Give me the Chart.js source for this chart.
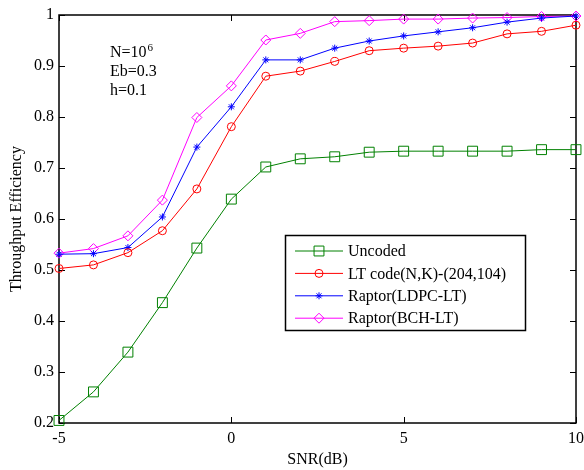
<!DOCTYPE html>
<html>
<head>
<meta charset="utf-8">
<script src="https://cdn.jsdelivr.net/npm/chart.js@4/dist/chart.umd.min.js"></script>
<style>
  html, body { margin: 0; padding: 0; background: #fff; }
</style>
</head>
<body>
<canvas id="chart" width="584" height="470"></canvas>
<script>
const snr = [-5, -4, -3, -2, -1, 0, 1, 2, 3, 4, 5, 6, 7, 8, 9, 10];
const uncoded = [0.205, 0.261, 0.339, 0.436, 0.543, 0.639, 0.702, 0.718, 0.722, 0.731, 0.733, 0.733, 0.733, 0.733, 0.736, 0.736];
const ltCode = [0.503, 0.510, 0.534, 0.577, 0.659, 0.781, 0.880, 0.890, 0.909, 0.930, 0.935, 0.939, 0.945, 0.963, 0.968, 0.980];
const raptorLdpc = [0.531, 0.532, 0.544, 0.604, 0.741, 0.820, 0.912, 0.912, 0.935, 0.949, 0.959, 0.967, 0.975, 0.986, 0.994, 0.998];
const raptorBch = [0.533, 0.542, 0.567, 0.637, 0.799, 0.861, 0.951, 0.964, 0.987, 0.989, 0.992, 0.992, 0.994, 0.995, 0.997, 0.998];
const seriesNames = ['Uncoded', 'LT code(N,K)-(204,104)', 'Raptor(LDPC-LT)', 'Raptor(BCH-LT)'];
const xTicks = [-5, 0, 5, 10];
const yTicks = [0.2, 0.3, 0.4, 0.5, 0.6, 0.7, 0.8, 0.9, 1];
const notes = ['N=10', 'Eb=0.3', 'h=0.1'];

const serif = '"Liberation Serif", "Times New Roman", serif';
const fontSize = 16;

function pts(ys) {
  return snr.map((x, i) => ({ x: x, y: ys[i] }));
}

function series(label, ys, color, style, radius) {
  return {
    label: label,
    data: pts(ys),
    borderColor: color,
    borderWidth: 1,
    pointStyle: style,
    pointRadius: radius,
    pointHoverRadius: radius,
    pointBorderColor: color,
    pointBorderWidth: 1,
    pointBackgroundColor: 'rgba(0,0,0,0)',
    tension: 0,
    clip: false,
    showLine: true
  };
}

// box around the axes with inward tick marks on all four sides
const framePlugin = {
  id: 'frame',
  beforeDatasetsDraw(chart) {
    const { ctx, chartArea: a, scales } = chart;
    const len = 6;
    ctx.save();
    ctx.strokeStyle = '#000';
    ctx.lineWidth = 1;
    ctx.beginPath();
    xTicks.forEach(v => {
      const px = Math.round(scales.x.getPixelForValue(v)) + 0.5;
      ctx.moveTo(px, a.bottom); ctx.lineTo(px, a.bottom - len);
      ctx.moveTo(px, a.top); ctx.lineTo(px, a.top + len);
    });
    yTicks.forEach(v => {
      const py = Math.round(scales.y.getPixelForValue(v)) + 0.5;
      ctx.moveTo(a.left, py); ctx.lineTo(a.left + len, py);
      ctx.moveTo(a.right, py); ctx.lineTo(a.right - len, py);
    });
    ctx.stroke();
    ctx.lineWidth = 1.5;
    ctx.strokeRect(a.left, a.top, a.right - a.left, a.bottom - a.top);
    ctx.restore();
  }
};

// legend box inside the plot area
const legendPlugin = {
  id: 'innerLegend',
  afterDatasetsDraw(chart) {
    const { ctx } = chart;
    const box = { x: 285.5, y: 235.5, w: 240, h: 95 };
    ctx.save();
    ctx.fillStyle = '#fff';
    ctx.fillRect(box.x, box.y, box.w, box.h);
    ctx.strokeStyle = '#000';
    ctx.lineWidth = 1.5;
    ctx.strokeRect(box.x, box.y, box.w, box.h);
    ctx.font = fontSize + 'px ' + serif;
    ctx.textBaseline = 'middle';
    chart.data.datasets.forEach((ds, i) => {
      const y = 251 + i * 22.4;
      ctx.strokeStyle = ds.borderColor;
      ctx.lineWidth = 1;
      ctx.beginPath();
      ctx.moveTo(295, y); ctx.lineTo(343, y);
      ctx.stroke();
      ctx.fillStyle = 'rgba(0,0,0,0)';
      Chart.helpers.drawPoint(ctx, {
        pointStyle: ds.pointStyle, radius: ds.pointRadius, rotation: 0, borderWidth: 1
      }, 319, y);
      ctx.fillStyle = '#000';
      ctx.fillText(ds.label, 348, y + 1);
    });
    ctx.restore();
  }
};

// parameter notes in the upper left
const notesPlugin = {
  id: 'notes',
  afterDraw(chart) {
    const { ctx } = chart;
    ctx.save();
    ctx.fillStyle = '#000';
    ctx.font = fontSize + 'px ' + serif;
    ctx.textBaseline = 'alphabetic';
    notes.forEach((t, i) => ctx.fillText(t, 110, 57 + i * 19));
    const w = ctx.measureText(notes[0]).width;
    ctx.font = '11px ' + serif;
    ctx.fillText('6', 110 + w + 1, 51);
    ctx.restore();
  }
};

new Chart(document.getElementById('chart'), {
  type: 'scatter',
  data: {
    datasets: [
      series(seriesNames[0], uncoded, '#008000', 'rect', 7),
      series(seriesNames[1], ltCode, '#ff0000', 'circle', 4),
      series(seriesNames[2], raptorLdpc, '#0000ff', 'star', 3.5),
      series(seriesNames[3], raptorBch, '#ff00ff', 'rectRot', 5)
    ]
  },
  options: {
    responsive: false,
    animation: false,
    layout: { padding: { top: 15, right: 0, left: 0, bottom: 0 } },
    plugins: { legend: { display: false }, tooltip: { enabled: false } },
    scales: {
      x: {
        type: 'linear',
        min: -5,
        max: 10,
        afterBuildTicks(s) { s.ticks = xTicks.map(v => ({ value: v })); },
        ticks: { color: '#000', font: { family: serif, size: fontSize }, padding: 6, maxRotation: 0 },
        grid: { display: false, drawTicks: false },
        border: { display: false },
        title: { display: true, text: 'SNR(dB)', color: '#000', font: { family: serif, size: fontSize }, padding: { top: 0, bottom: 0.5 } },
        afterFit(s) { s.height = 47; s.paddingRight = 7; s.paddingLeft = 0; }
      },
      y: {
        min: 0.2,
        max: 1,
        afterBuildTicks(s) { s.ticks = yTicks.map(v => ({ value: v })); },
        ticks: { color: '#000', font: { family: serif, size: fontSize }, padding: 5, callback: v => String(+v.toFixed(1)) },
        grid: { display: false, drawTicks: false },
        border: { display: false },
        title: { display: true, text: 'Throughput Efficiency', color: '#000', font: { family: serif, size: fontSize }, padding: { top: 7 } },
        afterFit(s) { s.width = 59; s.paddingTop = 0; s.paddingBottom = 0; }
      }
    }
  },
  plugins: [framePlugin, legendPlugin, notesPlugin]
});
</script>
</body>
</html>
